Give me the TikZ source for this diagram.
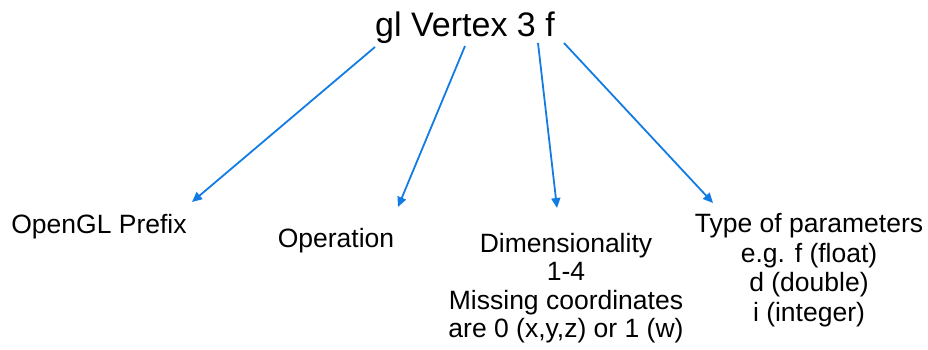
\documentclass[tikz,border=0pt]{standalone}
\usepackage{fontspec}
\setmainfont{Liberation Sans}
\usetikzlibrary{arrows.meta}
\definecolor{arrowblue}{RGB}{18,124,228}

\begin{document}
\begin{tikzpicture}[x=1pt,y=-1pt,
    title/.style={inner sep=0pt, anchor=base, font=\fontsize{34}{40}\selectfont},
    label/.style={inner sep=0pt, align=center, font=\fontsize{26.5}{29.5}\selectfont},
    pointer/.style={arrowblue, line width=1.8pt, arrows=-{Triangle[length=10pt,width=9pt]}}]
          \useasboundingbox (0,0) rectangle (928,349); % fixes the margins

          \node [title] (name) at (465,36) {gl Vertex 3 f};

          \node [label, anchor=base] (prefix) at (99,233) {OpenGL Prefix};
          \node [label, anchor=base] (operation) at (336,247) {Operation};
          \node [label, anchor=north, font=\fontsize{26.5}{28.4}\selectfont] (dimension) at (566,233)
                {Dimensionality\\1-4\\Missing coordinates\\are 0 (x,y,z) or 1 (w)};
          \node [label, anchor=north] (type) at (809,213.5)
                {Type of parameters\\e.g. f (float)\\d (double)\\i (integer)};

          \coordinate (gl) at (375,47);
          \coordinate (vertex) at (465,46);
          \coordinate (three) at (538,43);
          \coordinate (f) at (564,43);

          \coordinate (prefix tip) at (192,202);
          \coordinate (operation tip) at (398,207);
          \coordinate (dimension tip) at (557,208);
          \coordinate (type tip) at (713,203);

          \draw [pointer] (gl) -- (prefix tip);
          \draw [pointer] (vertex) -- (operation tip);
          \draw [pointer] (three) -- (dimension tip);
          \draw [pointer] (f) -- (type tip);
        \end{tikzpicture}
\end{document}
